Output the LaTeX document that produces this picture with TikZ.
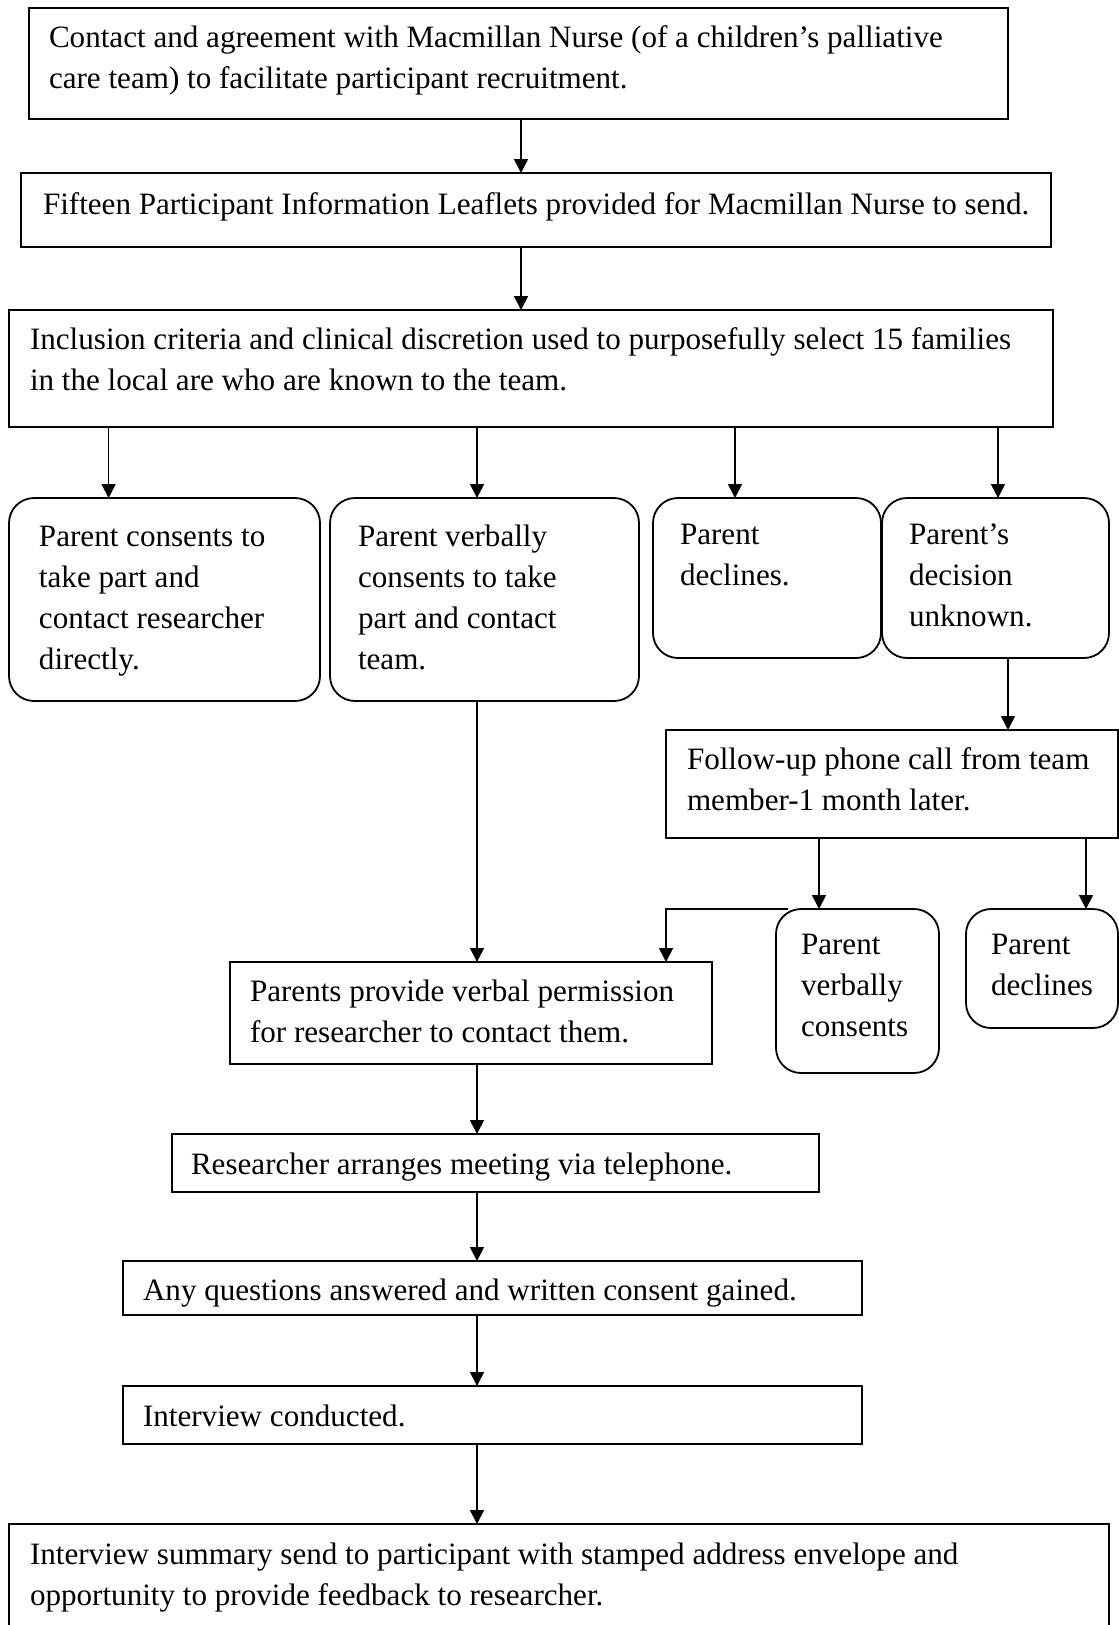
\documentclass[tikz,border=0pt]{standalone}
\usepackage{fontspec}
\setmainfont{Liberation Serif}
\usetikzlibrary{arrows.meta}
\newcommand\fbtext[5]{\parbox[c][#2pt][t]{#1pt}{\raggedright\leftskip=#3pt\relax\rule{0pt}{#4pt}#5}}
\tikzset{
  box/.style={draw, line width=1.8pt, inner sep=0pt, outer sep=0pt, anchor=north west,
    font=\fontsize{31.1pt}{41pt}\selectfont},
  rbox/.style={box, rounded corners=25pt},
  arr/.style={-{Triangle[length=14pt,width=14pt]}, line width=1.7pt},
  ln/.style={line width=1.7pt}
}
\begin{document}
\begin{tikzpicture}[x=1pt,y=-1pt]
\path[use as bounding box, clip] (0,0) rectangle (1119,1625);
\fill[white] (0,0) rectangle (1119,1625);

\node[box] (b1) at (29,8) {\fbtext{979}{111}{20}{39}{Contact and agreement with Macmillan Nurse (of a children’s palliative\\care team) to facilitate participant recruitment.}};
\node[box] (b2) at (21,173) {\fbtext{1030}{74}{22}{41}{Fifteen Participant Information Leaflets provided for Macmillan Nurse to send.}};
\node[box] (b3) at (9,310) {\fbtext{1044}{117}{21}{39}{Inclusion criteria and clinical discretion used to purposefully select 15 families\\in the local are who are known to the team.}};

\node[rbox] (A) at (9,498) {\fbtext{311}{203}{30}{48}{Parent consents to\\take part and\\contact researcher\\directly.}};
\node[rbox] (B) at (330,498) {\fbtext{309}{203}{28}{48}{Parent verbally\\consents to take\\part and contact\\team.}};
\node[rbox] (C) at (653,498) {\fbtext{228}{160}{27}{46}{Parent\\declines.}};
\node[rbox] (D) at (882,498) {\fbtext{227}{160}{27}{46}{Parent’s\\decision\\unknown.}};

\node[box] (F) at (666,730) {\fbtext{452}{108}{21}{39}{Follow-up phone call from team\\member-1 month later.}};
\node[rbox] (V) at (776,909) {\fbtext{163}{164}{25}{45}{Parent\\verbally\\consents}};
\node[rbox] (E) at (966,909) {\fbtext{152}{119}{25}{45}{Parent\\declines}};

\node[box] (P) at (230,962) {\fbtext{482}{102}{20}{39}{Parents provide verbal permission\\for researcher to contact them.}};
\node[box] (R) at (172,1134) {\fbtext{647}{58}{19}{40}{Researcher arranges meeting via telephone.}};
\node[box] (Q) at (123,1261) {\fbtext{739}{54}{20}{39}{Any questions answered and written consent gained.}};
\node[box] (I) at (123,1386) {\fbtext{739}{58}{20}{40}{Interview conducted.}};
\node[box] (S) at (9,1524) {\fbtext{1100}{140}{21}{40}{Interview summary send to participant with stamped address envelope and\\opportunity to provide feedback to researcher.}};

\draw[arr] ([xshift=492pt]b1.south west) -- ([xshift=500pt]b2.north west);
\draw[arr] ([xshift=500pt]b2.south west) -- ([xshift=512pt]b3.north west);

\draw[arr] ([xshift=99.6pt]b3.south west) -- ([xshift=99.6pt]A.north west);
\draw[arr] ([xshift=468pt]b3.south west) -- ([xshift=147pt]B.north west);
\draw[arr] ([xshift=726pt]b3.south west) -- ([xshift=82pt]C.north west);
\draw[arr] ([xshift=989pt]b3.south west) -- ([xshift=116pt]D.north west);

\draw[arr] ([xshift=126pt]D.south west) -- ([xshift=342pt]F.north west);
\draw[arr] ([xshift=153pt]F.south west) -- ([xshift=43pt]V.north west);
\draw[arr] ([xshift=420pt]F.south west) -- ([xshift=120pt]E.north west);

\draw[arr] ([xshift=147pt]B.south west) -- ([xshift=247pt]P.north west);
\draw[arr] ([xshift=12pt]V.north west) -| ([xshift=436pt]P.north west);

\draw[arr] ([xshift=247pt]P.south west) -- ([xshift=305pt]R.north west);
\draw[arr] ([xshift=305pt]R.south west) -- ([xshift=354pt]Q.north west);
\draw[arr] ([xshift=354pt]Q.south west) -- ([xshift=354pt]I.north west);
\draw[arr] ([xshift=354pt]I.south west) -- ([xshift=468pt]S.north west);
\end{tikzpicture}
\end{document}
